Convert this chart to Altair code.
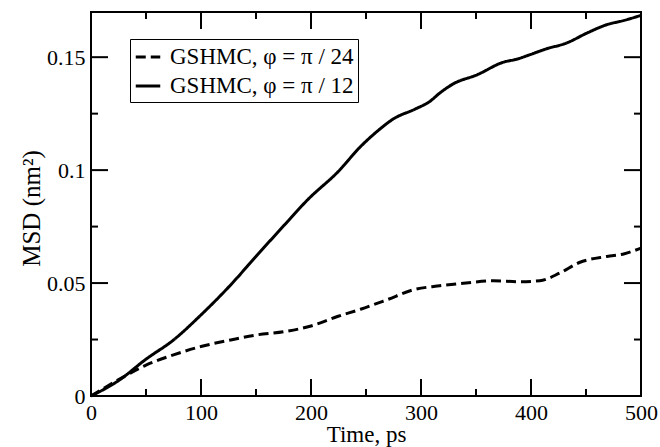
import altair as alt
import pandas as pd

# ---- data ----
t_pi12 = [0, 25, 50, 75, 100, 127, 150, 176, 197, 225, 245, 260, 275, 295, 308,
          317, 329, 351, 375, 387, 399, 414, 432, 451, 469, 484, 500]
msd_pi12 = [0, 0.0068, 0.0163, 0.0248, 0.0359, 0.0492, 0.0618, 0.0758, 0.0869,
            0.0995, 0.1104, 0.1171, 0.1227, 0.1271, 0.1304, 0.1341, 0.1381,
            0.1422, 0.1478, 0.1491, 0.1511, 0.1537, 0.1562, 0.1607, 0.1644,
            0.1662, 0.1685]

t_pi24 = [0, 30, 50, 75, 100, 127, 150, 176, 200, 224, 245, 269, 293, 317, 341,
          366, 390, 408, 426, 444, 469, 485, 500]
msd_pi24 = [0, 0.0086, 0.0137, 0.0182, 0.0219, 0.0248, 0.027, 0.0285, 0.031,
            0.0352, 0.0384, 0.0426, 0.047, 0.0488, 0.05, 0.051, 0.0506, 0.051,
            0.0544, 0.0591, 0.0618, 0.063, 0.0655]

series_names = ["GSHMC, φ = π / 24", "GSHMC, φ = π / 12"]

x_labels = [0, 100, 200, 300, 400, 500]
y_labels = [0, 0.05, 0.1, 0.15]
x_major = [100, 200, 300, 400]
x_minor = [50, 150, 250, 350, 450]
y_major = [0.05, 0.1, 0.15]
y_minor = [0.025, 0.075, 0.125]

W, H = 550, 384
FONT = "Liberation Serif"

rows = []
for t, v in zip(t_pi24, msd_pi24):
    rows.append({"t": t, "msd": v, "series": series_names[0]})
for t, v in zip(t_pi12, msd_pi12):
    rows.append({"t": t, "msd": v, "series": series_names[1]})
df = pd.DataFrame(rows)

xscale = alt.Scale(domain=[0, 500], nice=False, zero=False)
yscale = alt.Scale(domain=[0, 0.17], nice=False, zero=False)

lines = alt.Chart(df).mark_line(color="black", strokeWidth=3, interpolate="monotone").encode(
    x=alt.X("t:Q", scale=xscale,
            axis=alt.Axis(values=x_labels, ticks=False, domain=False, grid=False,
                          title="Time, ps", labelFlush=False, labelOverlap=False,
                          labelPadding=6, titleY=38, titleBaseline="middle",
                          titleFontSize=23)),
    y=alt.Y("msd:Q", scale=yscale,
            axis=alt.Axis(values=y_labels, format="~g", ticks=False, domain=False,
                          grid=False, title="MSD (nm²)", labelFlush=False,
                          labelOverlap=False, labelPadding=6, titleX=-60,
                          titleY=H / 2 + 4, titleAngle=-90, titleAlign="center",
                          titleBaseline="middle", titleFontSize=25)),
    strokeDash=alt.StrokeDash(
        "series:N",
        scale=alt.Scale(domain=series_names, range=[[10, 5], [1, 0]]),
        legend=alt.Legend(title=None, orient="none", legendX=39, legendY=27,
                          symbolType="stroke", symbolStrokeWidth=3,
                          symbolSize=600, symbolStrokeColor="black",
                          labelFont=FONT, labelFontSize=23, labelColor="black",
                          labelLimit=0, strokeColor="black", padding=4,
                          rowPadding=3, labelOffset=8),
    ),
    order="t:Q",
)

def xticks(vals, length):
    d = pd.DataFrame({"t": vals})
    bottom = alt.Chart(d).mark_rule(color="black", strokeWidth=2).encode(
        x=alt.X("t:Q", scale=xscale), y=alt.value(H), y2=alt.value(H - length))
    top = alt.Chart(d).mark_rule(color="black", strokeWidth=2).encode(
        x=alt.X("t:Q", scale=xscale), y=alt.value(0), y2=alt.value(length))
    return [bottom, top]

def yticks(vals, length):
    d = pd.DataFrame({"msd": vals})
    left = alt.Chart(d).mark_rule(color="black", strokeWidth=2).encode(
        y=alt.Y("msd:Q", scale=yscale), x=alt.value(0), x2=alt.value(length))
    right = alt.Chart(d).mark_rule(color="black", strokeWidth=2).encode(
        y=alt.Y("msd:Q", scale=yscale), x=alt.value(W), x2=alt.value(W - length))
    return [left, right]

layers = [lines] + xticks(x_major, 17) + xticks(x_minor, 7) + yticks(y_major, 17) + yticks(y_minor, 7)

chart = alt.layer(*layers).properties(
    width=W, height=H, autosize="none",
    padding={"left": 91, "top": 12, "right": 19, "bottom": 51},
).configure(
    background="white"
).configure_view(
    stroke="black", strokeWidth=2
).configure_axis(
    labelFont=FONT, labelFontSize=22, labelColor="black",
    titleFont=FONT, titleFontSize=22, titleFontWeight="normal", titleColor="black",
)

chart.save("out.html", embed_options={"renderer": "svg", "actions": False})
